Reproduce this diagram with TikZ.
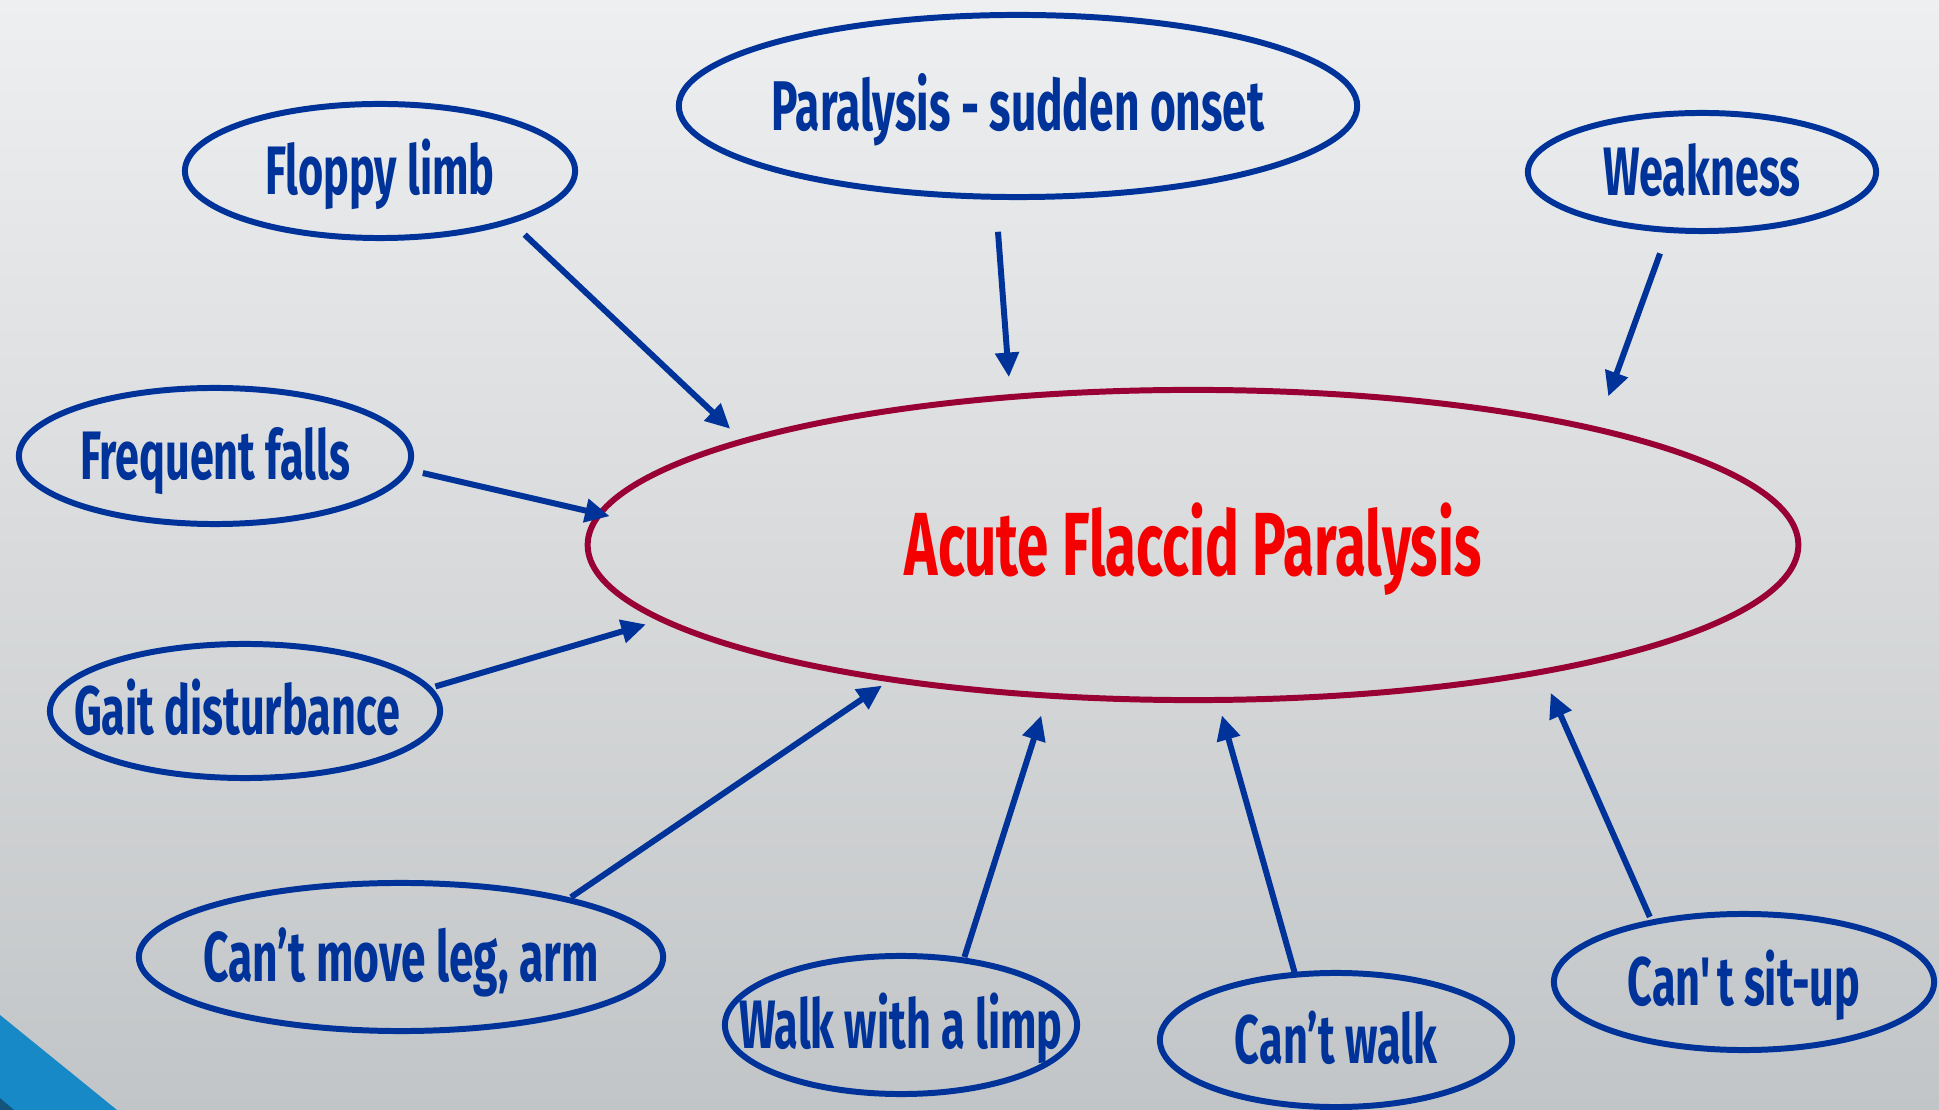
\documentclass[tikz,border=0pt]{standalone}
\usepackage{fontspec}
\setmainfont{Fira Sans}[FakeStretch=0.63]
\usepackage{tikz}
\usetikzlibrary{shapes.geometric, arrows.meta, positioning}

\definecolor{symblue}{RGB}{0,51,153}
\definecolor{afpred}{RGB}{153,0,51}
\definecolor{afptext}{RGB}{245,0,0}
\definecolor{bgtop}{RGB}{238,239,240}
\definecolor{bgmid}{RGB}{233,234,235}
\definecolor{bgbot}{RGB}{194,197,199}
\definecolor{cornerblue}{RGB}{22,137,198}
\definecolor{cornerdark}{RGB}{20,85,125}

\begin{document}
\begin{tikzpicture}[
    x=0.01cm, y=-0.01cm,
    symptom/.style={ellipse, draw=symblue, line width=1.7pt, inner sep=0pt, outer sep=0pt},
    lbl/.style={text=symblue, inner sep=0pt, text height=13.4pt, text depth=0pt, font=\bfseries\fontsize{19.5}{21}\selectfont},
    lblbig/.style={lbl, text height=13.8pt, font=\bfseries\fontsize{20}{22}\selectfont},
    mainbox/.style={ellipse, draw=afpred, line width=1.7pt, inner sep=0pt, outer sep=0pt, minimum width=12.10cm, minimum height=3.10cm, text=afptext, text height=17.6pt, text depth=0pt, font=\bfseries\fontsize{25.5}{28}\selectfont},
    arr/.style={-{Triangle[length=7pt, width=6.5pt]}, draw=symblue, line width=1.7pt}
]

% Background
\shade[top color=bgtop, middle color=bgmid, bottom color=bgbot] (0,0) rectangle (1939,1110);
\fill[cornerblue] (0,1015) -- (117,1110) -- (0,1110) -- cycle;
\fill[cornerdark] (0,1098) -- (14,1110) -- (0,1110) -- cycle;
\useasboundingbox (0,0) rectangle (1939,1110);

% Centre
\node[mainbox] (afp) at (1193,545) {Acute Flaccid Paralysis};

% Symptoms
\node[symptom, minimum width=6.78cm, minimum height=1.82cm, label={[lblbig]center:Paralysis - sudden onset}] (onset) at (1018,106) {};
\node[symptom, minimum width=3.90cm, minimum height=1.34cm, label={[lbl]center:Floppy limb}] (floppy) at (380,171) {};
\node[symptom, minimum width=3.48cm, minimum height=1.18cm, label={[lbl]center:Weakness}] (weak) at (1702,172) {};
\node[symptom, minimum width=3.92cm, minimum height=1.36cm, label={[lbl]center:Frequent falls}] (falls) at (215,456) {};
\node[symptom, minimum width=3.90cm, minimum height=1.34cm, label={[lbl, xshift=-0.08cm]center:Gait disturbance}] (gait) at (245,711) {};
\node[symptom, minimum width=5.24cm, minimum height=1.48cm, label={[lblbig]center:Can’t move leg, arm}] (move) at (401,957) {};
\node[symptom, minimum width=3.52cm, minimum height=1.38cm, label={[lbl]center:Walk with a limp}] (limp) at (901,1025) {};
\node[symptom, minimum width=3.52cm, minimum height=1.34cm, label={[lbl]center:Can’t walk}] (walk) at (1336,1040) {};
\node[symptom, minimum width=3.80cm, minimum height=1.36cm, label={[lbl]center:Can\textquotesingle t sit-up}] (situp) at (1744,982) {};

% Arrows
\draw[arr, shorten <=2.0mm, shorten >=1.8mm] (floppy.-21.2) -- (afp.167.3);
\draw[arr, shorten <=3.5mm, shorten >=2.0mm] (onset.256.6) -- (afp.141.75);
\draw[arr, shorten <=2.5mm, shorten >=3.5mm] (weak.-120.8) -- (afp.16.6);
\draw[arr, shorten <=1.6mm, shorten >=-1.0mm] (falls.-4.76) -- (afp.177.5);
\draw[arr, shorten <=0.7mm, shorten >=1.7mm] (gait.7) -- (afp.188.3);
\draw[arr, shorten <=0.45mm, shorten >=1.1mm] (move.19.5) -- (afp.204.9);
\draw[arr, shorten <=0.35mm, shorten >=2.1mm] (limp.46.7) -- (afp.226.1);
\draw[arr, shorten <=0.1mm, shorten >=1.6mm] (walk.122.2) -- (afp.279.3);
\draw[arr, shorten <=0.6mm, shorten >=2.3mm] (situp.147.5) -- (afp.-20.8);

\end{tikzpicture}
\end{document}
